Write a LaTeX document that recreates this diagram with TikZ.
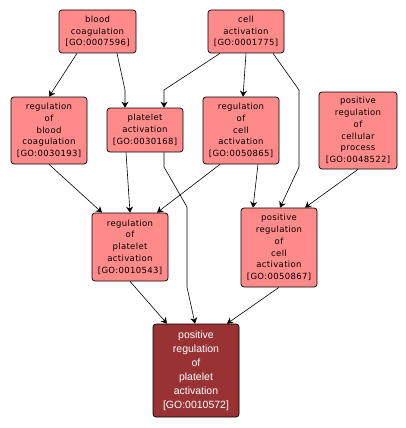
\documentclass[tikz,border=0pt]{standalone}
\usepackage{fontspec}
\setmainfont{DejaVu Sans}[LetterSpace=4]
\newfontfamily\arialfont{Liberation Sans}
\usetikzlibrary{arrows.meta}

\definecolor{termpink}{HTML}{FF8A8A}
\definecolor{termdark}{HTML}{993333}

\begin{document}
\begin{tikzpicture}[
    x=1pt, y=-1pt,
    >={Stealth[length=6pt, width=7pt]},
    term/.style  = {rectangle, draw, rounded corners=3pt, line width=0.7pt,
                    fill=termpink, align=center, inner sep=0pt,
                    font=\fontsize{8.5}{11.7}\selectfont},
    focus/.style = {term, fill=termdark, text=white,
                    font=\arialfont\fontsize{10.5}{14}\selectfont},
    edge/.style  = {->, line width=0.6pt}
]
\useasboundingbox (0,0) rectangle (406,428);

% TOP ROW
\node[term, minimum width=77pt, minimum height=43pt] (bc) at (97.5,31.5)
    {blood\\coagulation\\{[GO:0007596]}};
\node[term, minimum width=76pt, minimum height=43pt] (ca) at (246,31.5)
    {cell\\activation\\{[GO:0001775]}};

% SECOND ROW
\node[term, minimum width=76pt, minimum height=67pt] (rbc) at (49,130.5)
    {regulation\\of\\blood\\coagulation\\{[GO:0030193]}};
\node[term, minimum width=76pt, minimum height=44pt] (pa) at (145,130)
    {platelet\\activation\\{[GO:0030168]}};
\node[term, minimum width=76pt, minimum height=67pt] (rca) at (241,130.5)
    {regulation\\of\\cell\\activation\\{[GO:0050865]}};
\node[term, minimum width=78pt, minimum height=77pt] (prcp) at (358,130.5)
    {positive\\regulation\\of\\cellular\\process\\{[GO:0048522]}};

% THIRD ROW
\node[term, minimum width=76pt, minimum height=68pt] (rpa) at (130,247)
    {regulation\\of\\platelet\\activation\\{[GO:0010543]}};
\node[term, minimum width=76pt, minimum height=79pt] (prca) at (279,247.5)
    {positive\\regulation\\of\\cell\\activation\\{[GO:0050867]}};

% FOCUS TERM
\node[focus, minimum width=86pt, minimum height=93pt] (prpa) at (196,370.5)
    {positive\\regulation\\of\\platelet\\activation\\{[GO:0010572]}};

% EDGES
\draw[edge] ([xshift=-20.5pt]bc.south) -- (rbc.north);
\draw[edge] ([xshift=19.5pt]bc.south) -- (125,90) -- ([xshift=-20pt]pa.north);
\draw[edge] ([xshift=-26pt]ca.south) -- (164,90) -- ([xshift=19pt]pa.north);
\draw[edge] (ca.south) -- ([xshift=2pt]rca.north);
\draw[edge] ([xshift=27pt]ca.south) -- (299,90) -- (299,167) -- ([xshift=1pt]prca.north);
\draw[edge] (prcp.south) -- ([xshift=26pt]prca.north);
\draw[edge] ([xshift=17pt]rca.south) -- ([xshift=-26pt]prca.north);
\draw[edge] ([xshift=-21pt]rca.south) -- ([xshift=27pt]rpa.north);
\draw[edge] (rbc.south) -- ([xshift=-28pt]rpa.north);
\draw[edge] ([xshift=-19pt]pa.south) -- (rpa.north);
\draw[edge] ([xshift=19pt]pa.south) -- (164,167) -- (187,207) -- (187,287) -- ([xshift=-1pt]prpa.north);
\draw[edge] (rpa.south) -- ([xshift=-29pt]prpa.north);
\draw[edge] (prca.south) -- ([xshift=31pt]prpa.north);

\end{tikzpicture}
\end{document}
